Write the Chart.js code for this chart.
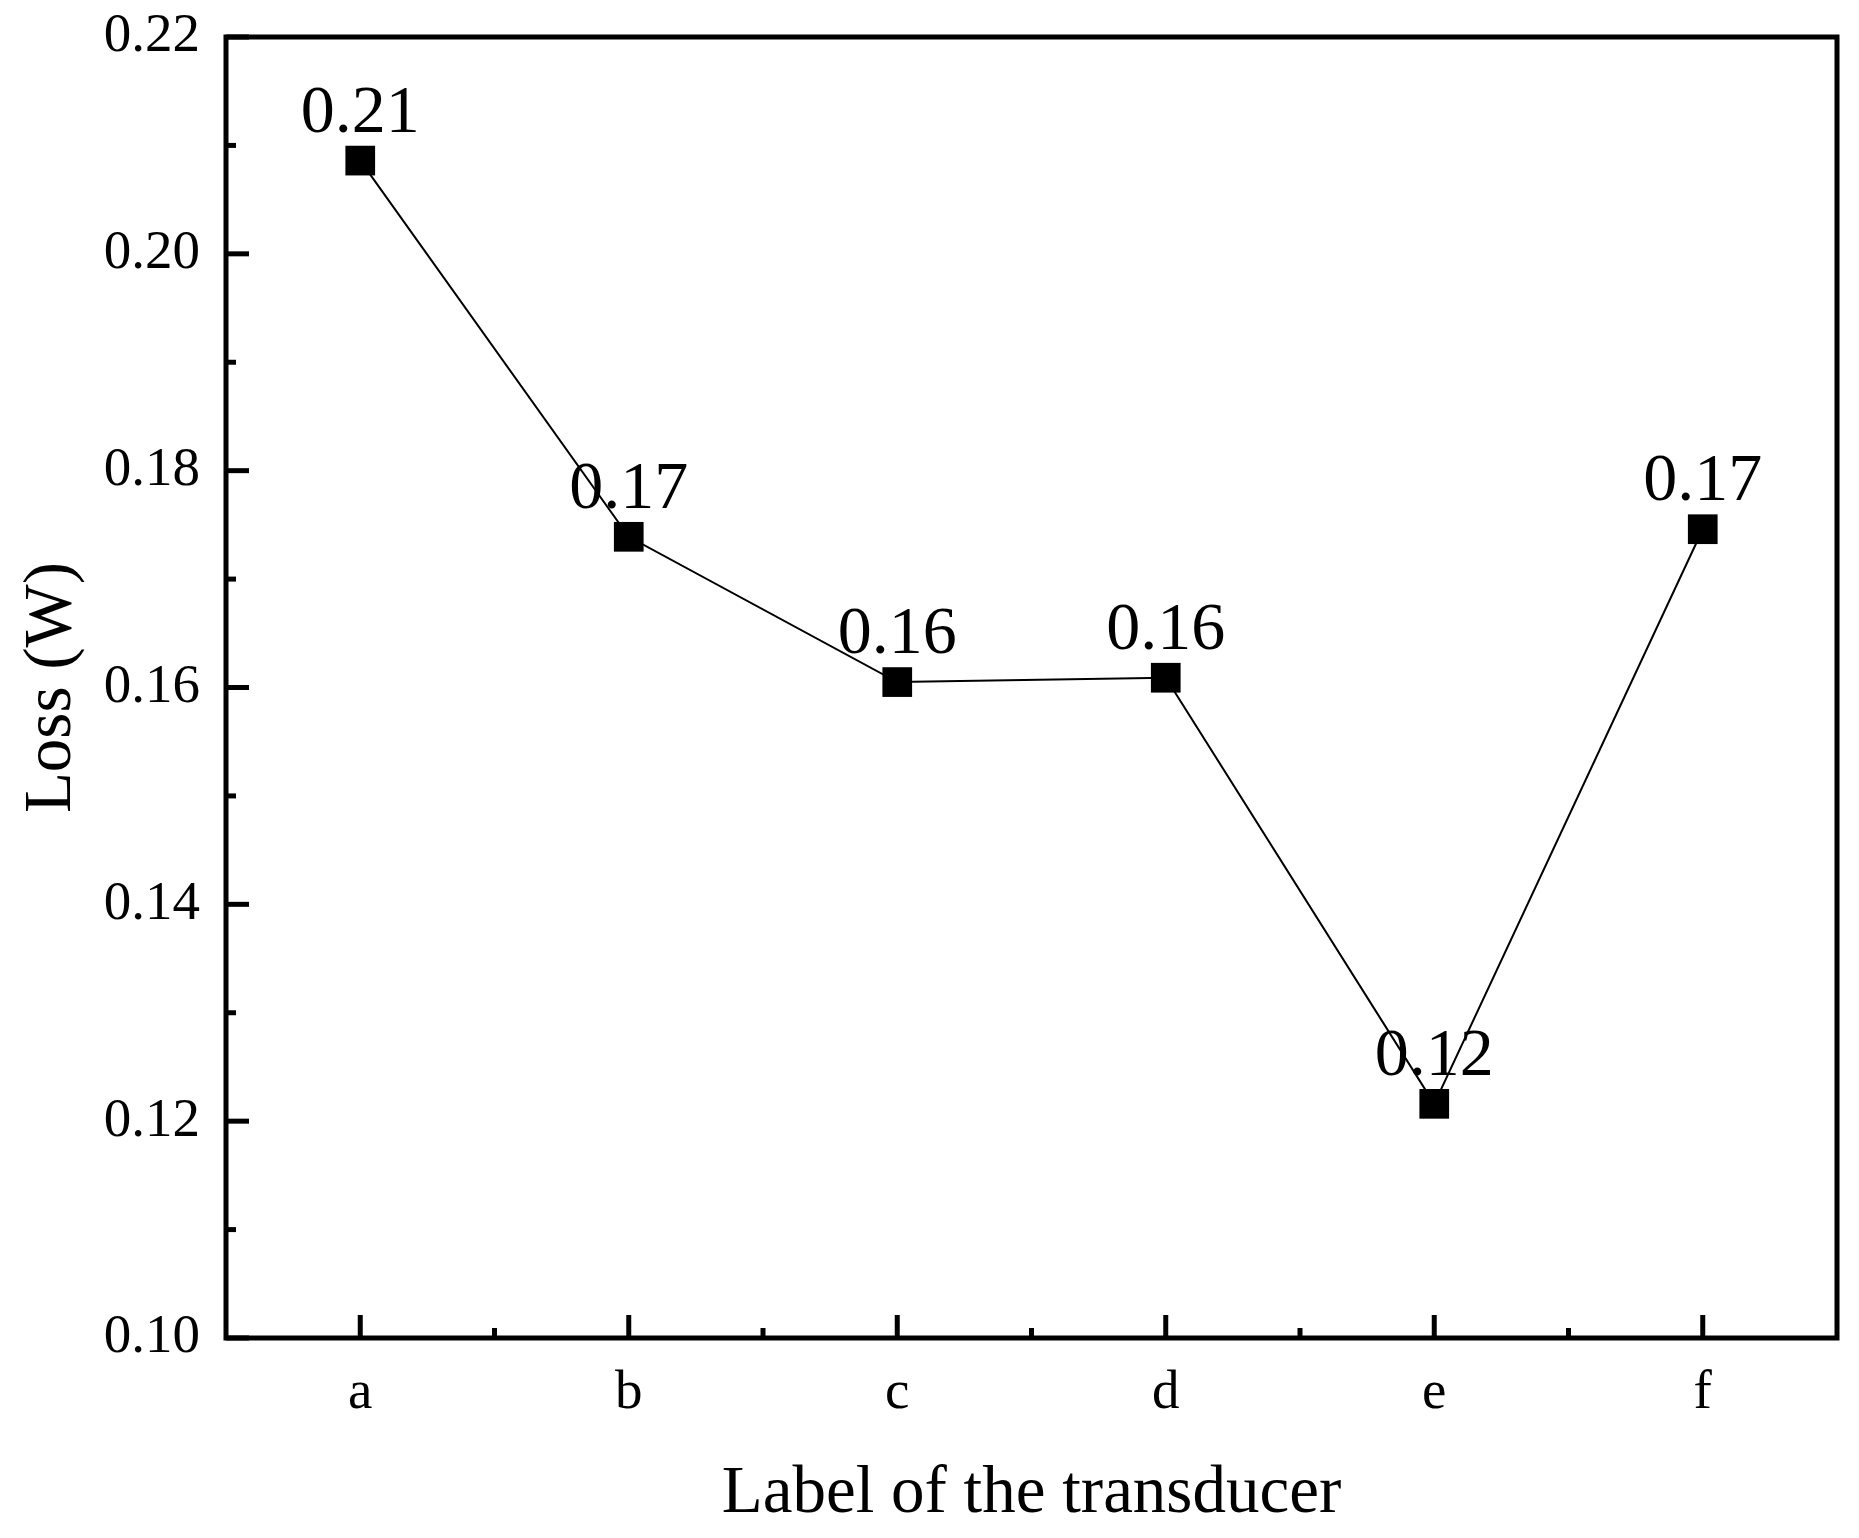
<!DOCTYPE html>
<html>
<head>
<meta charset="utf-8">
<script src="https://cdn.jsdelivr.net/npm/chart.js@4.4.1/dist/chart.umd.min.js"></script>
<style>
  body { margin: 0; background: #fff; }
</style>
</head>
<body>
<canvas id="loss-chart" width="1859" height="1538"></canvas>
<script>
// Categorias (transdutores) e perdas
const transducerLabels = ['a', 'b', 'c', 'd', 'e', 'f'];
const lossValues = [0.2086, 0.1739, 0.1605, 0.1609, 0.1216, 0.1746];
const yTickValues = [0.10, 0.12, 0.14, 0.16, 0.18, 0.20, 0.22];

const serif = "'Liberation Serif', 'Times New Roman', serif";

// Desenha a moldura, os ticks internos e os rótulos dos pontos
const frameAndTicks = {
  id: 'frameAndTicks',
  afterDraw(chart) {
    const { ctx, chartArea, scales } = chart;
    const { left, right, top, bottom } = chartArea;
    ctx.save();
    ctx.strokeStyle = '#000';
    ctx.lineWidth = 5;

    // ticks do eixo y (maiores e menores)
    const yScale = scales.y;
    for (let i = 0; i < yTickValues.length; i++) {
      const y = yScale.getPixelForValue(yTickValues[i]);
      ctx.beginPath();
      ctx.moveTo(left, y);
      ctx.lineTo(left + 23, y);
      ctx.stroke();
      if (i < yTickValues.length - 1) {
        const ym = yScale.getPixelForValue((yTickValues[i] + yTickValues[i + 1]) / 2);
        ctx.beginPath();
        ctx.moveTo(left, ym);
        ctx.lineTo(left + 10, ym);
        ctx.stroke();
      }
    }

    // ticks do eixo x
    const xScale = scales.x;
    for (let i = 0; i < transducerLabels.length; i++) {
      const x = xScale.getPixelForValue(i);
      ctx.beginPath();
      ctx.moveTo(x, bottom);
      ctx.lineTo(x, bottom - 23);
      ctx.stroke();
      if (i < transducerLabels.length - 1) {
        const xm = xScale.getPixelForValue(i + 0.5);
        ctx.beginPath();
        ctx.moveTo(xm, bottom);
        ctx.lineTo(xm, bottom - 10);
        ctx.stroke();
      }
    }

    ctx.strokeRect(left, top, right - left, bottom - top);
    ctx.restore();
  },
  beforeDatasetsDraw(chart) {
    const { ctx } = chart;
    const points = chart.getDatasetMeta(0).data;
    ctx.save();
    ctx.fillStyle = '#000';
    ctx.font = '68px ' + serif;
    ctx.textAlign = 'center';
    ctx.textBaseline = 'alphabetic';
    points.forEach((pt, i) => {
      ctx.fillText(lossValues[i].toFixed(2), pt.x, pt.y - 29);
    });
    ctx.restore();
  },
};

new Chart(document.getElementById('loss-chart'), {
  type: 'line',
  data: {
    labels: transducerLabels,
    datasets: [
      {
        data: lossValues,
        borderColor: '#000',
        borderWidth: 2,
        pointStyle: 'rect',
        pointRadius: 21,
        pointBackgroundColor: '#000',
        pointBorderWidth: 0,
        tension: 0,
        clip: false,
      },
    ],
  },
  options: {
    responsive: false,
    animation: false,
    layout: { padding: { top: 37, right: 22, left: 0, bottom: 0 } },
    plugins: {
      legend: { display: false },
      tooltip: { enabled: false },
    },
    scales: {
      x: {
        type: 'category',
        offset: true,
        grid: { display: false, drawTicks: false },
        border: { display: false },
        ticks: {
          color: '#000',
          padding: 23,
          font: { family: serif, size: 55 },
        },
        title: {
          display: true,
          text: 'Label of the transducer',
          color: '#000',
          padding: { top: 0, bottom: 3 },
          font: { family: serif, size: 67 },
        },
        afterFit(scale) {
          scale.height = 200;
        },
      },
      y: {
        min: 0.10,
        max: 0.22,
        grid: { display: false, drawTicks: false },
        border: { display: false },
        ticks: {
          color: '#000',
          padding: 26,
          stepSize: 0.02,
          font: { family: serif, size: 55, lineHeight: 0.4 },
          callback: (value) => Number(value).toFixed(2),
        },
        title: {
          display: true,
          text: 'Loss (W)',
          color: '#000',
          padding: { top: 12, bottom: 0 },
          font: { family: serif, size: 67 },
        },
        afterFit(scale) {
          scale.width = 226;
        },
      },
    },
  },
  plugins: [frameAndTicks],
});
</script>
</body>
</html>
